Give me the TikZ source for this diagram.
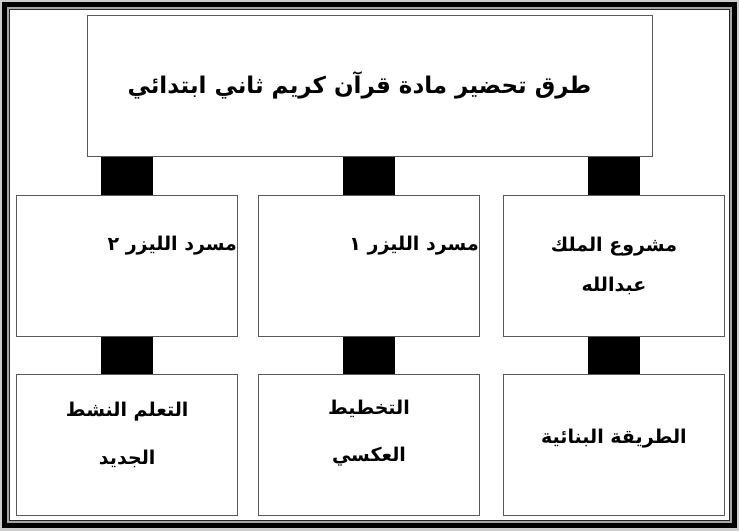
\documentclass[tikz,border=0pt]{standalone}
\usepackage{fontspec}
\newfontfamily\arabicfont[Script=Arabic]{DejaVu Sans}
\TeXXeTstate=1
\newcommand{\artxt}[1]{\beginR #1\endR}
\begin{document}
\begin{tikzpicture}[x=1pt,y=-1pt]
\tikzstyle{every node}=[font=\arabicfont\bfseries\fontsize{19}{44}\selectfont]
\tikzstyle{box}=[draw=black!65,line width=1pt,fill=white,minimum width=221pt,minimum height=141pt,inner sep=0pt,align=center]
\tikzstyle{link}=[line width=52pt,draw=black]

% page frame
\fill[black!20] (0,0) rectangle (739,531);
\useasboundingbox (0,0) rectangle (739,531);
\fill[white] (7,7) rectangle (732,523);
\draw[line width=5pt] (4.5,4.5) rectangle (734.5,525.5);
\draw[line width=1.5pt,black!35] (8,8) rectangle (731,522);
\draw[line width=1pt,black!85] (9.5,9.5) rectangle (729.5,520.5);

\node[box,minimum width=565pt] (top) at (369.5,85.5) {};
\node[font=\arabicfont\bfseries\fontsize{23}{32}\selectfont] (toptxt) at ([xshift=-10pt]top.center) {\artxt{طرق تحضير مادة قرآن كريم ثاني ابتدائي}};

\node[box] (laser2) at (127.2,265.5) {};
\node[box] (laser1) at (369,265.5) {};
\node[box] (kingproj) at (614,265.5) {\artxt{مشروع الملك}\\[-4pt]\artxt{عبدالله}};

\node[box] (active) at (127.2,445) {};
\node[box] (backward) at (369,445) {};
\node[box] (constructive) at (614,445) {};

\node[anchor=east,inner sep=1pt] (laser2txt) at ([yshift=20pt]laser2.east) {\artxt{مسرد الليزر ٢}};
\node[anchor=east,inner sep=1pt] (laser1txt) at ([yshift=20pt]laser1.east) {\artxt{مسرد الليزر ١}};
\node[align=center] (activetxt) at ([yshift=10pt]active.center) {\artxt{التعلم النشط}\\[4pt]\artxt{الجديد}};
\node[align=center] (backwardtxt) at ([yshift=12pt]backward.center) {\artxt{التخطيط}\\[3pt]\artxt{العكسي}};
\node (constructivetxt) at ([yshift=6pt]constructive.center) {\artxt{الطريقة البنائية}};

\path[link] (top.south -| laser2) edge (laser2.north);
\path[link] (top.south -| laser1) edge (laser1.north);
\path[link] (top.south -| kingproj) edge (kingproj.north);
\path[link] (laser2.south) edge (active.north);
\path[link] (laser1.south) edge (backward.north);
\path[link] (kingproj.south) edge (constructive.north);

\end{tikzpicture}
\end{document}
